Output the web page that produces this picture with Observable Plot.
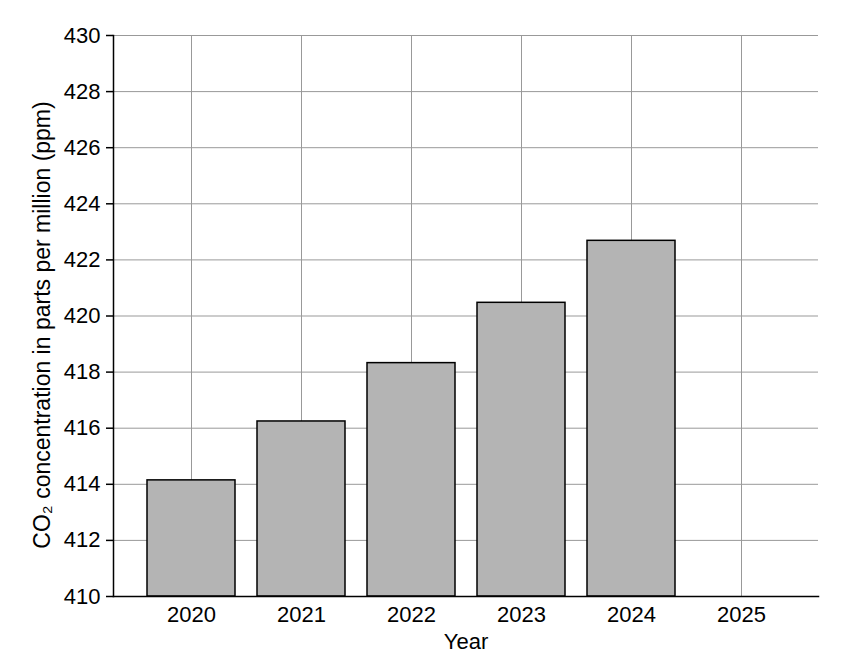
<!DOCTYPE html>
<html>
<head>
<meta charset="utf-8">
<script src="https://cdn.jsdelivr.net/npm/d3@7"></script>
<script src="https://cdn.jsdelivr.net/npm/@observablehq/plot@0.6"></script>
<style>
  html, body { margin: 0; padding: 0; background: #fff; }
</style>
</head>
<body>
<div id="chart"></div>
<script>
const years = ["2020", "2021", "2022", "2023", "2024", "2025"];
const barYears = ["2020", "2021", "2022", "2023", "2024"];
const co2 = [414.14, 416.24, 418.32, 420.47, 422.68];
const yDomain = [410, 430];
const yTicks = [410, 412, 414, 416, 418, 420, 422, 424, 426, 428, 430];
const yLabel = "CO₂ concentration in parts per million (ppm)";
const xLabel = "Year";

const data = barYears.map((y, i) => ({year: y, value: co2[i]}));

const chart = Plot.plot({
  width: 854,
  height: 670,
  marginLeft: 113,
  marginRight: 36,
  marginTop: 35,
  marginBottom: 74,
  style: {fontFamily: "'Liberation Sans', Arial, sans-serif", fontSize: "22px", color: "#000", background: "#fff"},
  x: {type: "band", domain: years, paddingInner: 0.2, paddingOuter: 0.29},
  y: {domain: yDomain},
  marks: [
    Plot.gridX(years, {stroke: "#999", strokeOpacity: 1, strokeWidth: 1}),
    Plot.gridY(yTicks, {stroke: "#999", strokeOpacity: 1, strokeWidth: 1}),
    Plot.barY(data, {x: "year", y1: yDomain[0], y2: "value", fill: "#b4b4b4", stroke: "#000", strokeWidth: 1.5}),
    Plot.axisY(yTicks, {fontSize: 22, tickSize: 7, tickPadding: 6, tickFormat: d => String(d), label: null, stroke: "#000", strokeWidth: 1.5}),
    Plot.text([yLabel], {text: d => d, frameAnchor: "left", textAnchor: "middle", rotate: -90, fontSize: 23, dx: -71, dy: 9, fill: "#000"}),
    Plot.axisX(years, {fontSize: 22, tickSize: 0, tickPadding: 10, label: xLabel, labelAnchor: "center", labelArrow: "none", labelOffset: 52}),
    Plot.frame({anchor: "left", stroke: "#000", strokeWidth: 1.5}),
    Plot.frame({anchor: "bottom", stroke: "#000", strokeWidth: 1.5})
  ]
});
document.getElementById("chart").appendChild(chart);
</script>
</body>
</html>
